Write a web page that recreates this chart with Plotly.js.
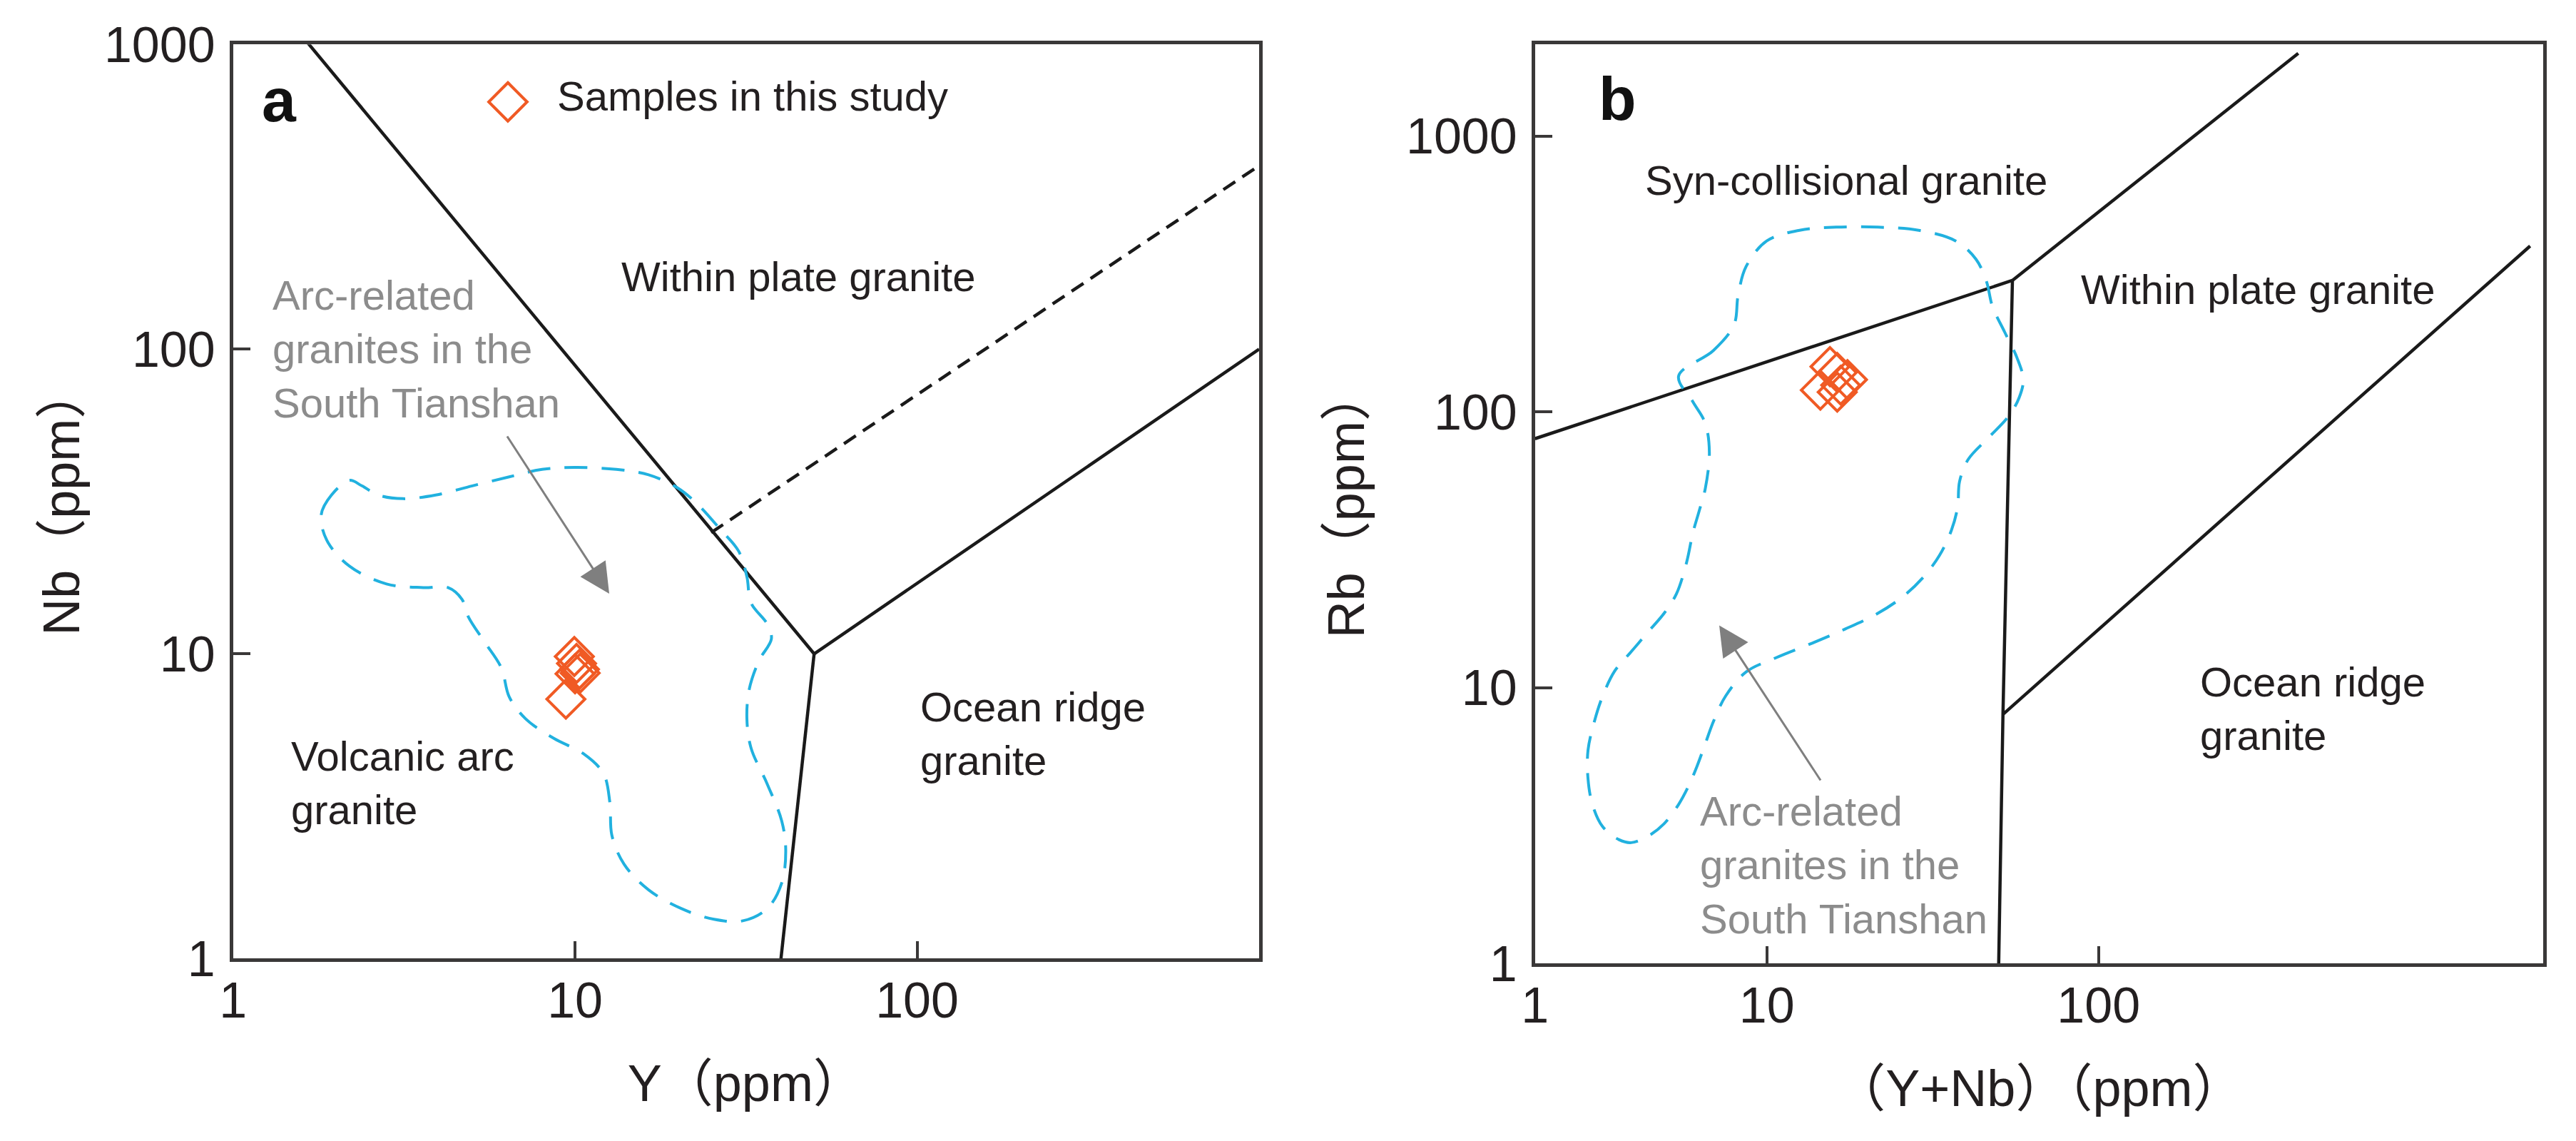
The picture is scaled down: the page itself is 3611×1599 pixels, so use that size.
<!DOCTYPE html>
<html>
<head>
<meta charset="utf-8">
<script src="https://cdn.plot.ly/plotly-3.0.1.min.js"></script>
<style>
html,body{margin:0;padding:0;background:#ffffff;}
#chart{width:3611px;height:1599px;}
</style>
</head>
<body>
<div id="chart"></div>
<script>
// ---------------- Panel a : Nb vs Y (ppm) ----------------
const aXTickVals = [1, 10, 100];
const aXTickText = ['1', '10', '100'];
const aYTickVals = [1, 10, 100, 1000];
const aYTickText = ['1', '10', '100', '1000'];

// field boundaries (Y, Nb)
const aBoundWpgY  = [1, 50];     const aBoundWpgNb  = [2000, 10];
const aBoundVagY  = [50, 40];    const aBoundVagNb  = [10, 1];
const aBoundOrgY  = [50, 1000];  const aBoundOrgNb  = [10, 100];
const aBoundDashY = [25, 1000];  const aBoundDashNb = [25, 400];

// arc-related granites of the South Tianshan (outline)
const aFieldY  = [2.19, 1.94, 1.81, 1.88, 2.19, 2.81, 3.60, 4.25, 4.67, 4.88, 5.45, 6.09, 6.42, 7.17, 8.69, 10.56, 12.1, 12.64, 12.81, 13.91, 16.41, 20.43, 25.48, 30.95, 36.5, 40.2, 41.3, 40.2, 36.5, 32.7, 31.8, 32.3, 34.5, 37.5, 36.5, 32.7, 31.8, 30.1, 26.6, 22.8, 19.9, 16.4, 13.2, 9.99, 8.01, 6.42, 5.01, 3.91, 3.14, 2.66, 2.38, 2.19];
const aFieldNb = [37.1, 33.2, 28.6, 23.6, 19.4, 16.96, 16.5, 16.5, 15.1, 13.2, 10.9, 8.98, 7.22, 6.12, 5.27, 4.71, 4.05, 3.25, 2.54, 2.04, 1.68, 1.46, 1.345, 1.33, 1.46, 1.77, 2.27, 2.83, 3.73, 4.91, 6.12, 7.64, 9.50, 11.2, 12.5, 14.7, 17.9, 21.7, 25.6, 31.0, 35.1, 38.7, 40.3, 40.9, 40.3, 38.1, 35.6, 33.2, 32.3, 33.2, 35.6, 37.1];

// samples in this study
const aSampleY  = [9.95, 10.1, 10.3, 10.35, 10.0, 9.4];
const aSampleNb = [9.8, 9.3, 8.9, 8.65, 8.6, 7.1];

// ---------------- Panel b : Rb vs (Y+Nb) (ppm) ----------------
const bXTickVals = [2, 10, 100];
const bXTickText = ['1', '10', '100'];
const bYTickVals = [1, 10, 100, 1000];
const bYTickText = ['1', '10', '100', '1000'];

const bBoundSynX = [2, 55];      const bBoundSynRb = [80, 300];
const bBoundWpX  = [55, 400];    const bBoundWpRb  = [300, 2000];
const bBoundVagX = [55, 51.5, 50]; const bBoundVagRb = [300, 8, 1];
const bBoundOrgX = [51.5, 2000]; const bBoundOrgRb = [8, 400];

const bFieldX  = [5.42, 6.90, 7.96, 8.19, 8.66, 9.99, 12.55, 16.2, 21.6, 28.7, 37.1, 42.7, 45.9, 47.9, 52.1, 56.8, 59.3, 57.6, 53.6, 46.5, 40.4, 38.1, 37.6, 36.0, 33.1, 29.5, 25.6, 21.6, 17.2, 13.7, 10.6, 8.66, 7.51, 6.90, 6.52, 6.16, 5.82, 5.42, 4.90, 4.38, 3.90, 3.58, 3.20, 2.98, 2.89, 2.89, 3.02, 3.20, 3.48, 3.90, 4.38, 4.90, 5.34, 5.73, 5.98, 6.25, 6.52, 6.71, 6.52, 5.98, 5.42];
const bFieldRb = [135, 167, 207, 264, 337, 417, 456, 468, 468, 456, 417, 358, 298, 241, 195, 157, 131, 112.5, 96.6, 80.5, 67.1, 55.9, 45.2, 37.2, 30.1, 25.0, 21.3, 18.6, 16.3, 14.5, 12.8, 11.4, 9.32, 7.53, 6.25, 5.19, 4.42, 3.77, 3.21, 2.89, 2.74, 2.81, 3.13, 3.77, 4.67, 5.93, 7.53, 9.32, 11.5, 13.5, 15.9, 18.6, 21.9, 28.5, 36.3, 43.7, 52.6, 71.3, 91.0, 109, 135];

const bSampleX  = [15.5, 16.3, 17.5, 16.7, 14.5, 16.3];
const bSampleRb = [146, 139, 131, 125, 120, 118];

// ---------------- styles ----------------
const FONT = 'Liberation Sans, Arial, Noto Sans CJK SC, sans-serif';
const TXT = '#231f20';
const LINE = '#1a1a1a';
const BOX = '#3a3838';
const BLUE = '#21b1df';
const ORANGE = '#f05a24';
const GREY = '#8c8c8c';
const LW = 4.5;

function line(x, y, xa, ya, dash) {
  return {type: 'scatter', mode: 'lines', x: x, y: y, xaxis: xa, yaxis: ya,
    line: {color: LINE, width: LW, dash: dash || 'solid'}, hoverinfo: 'skip', showlegend: false};
}
function field(x, y, xa, ya) {
  return {type: 'scatter', mode: 'lines', x: x, y: y, xaxis: xa, yaxis: ya,
    line: {color: BLUE, width: 4, dash: '32px,20px', shape: 'spline', smoothing: 1},
    hoverinfo: 'skip', showlegend: false};
}
function samples(x, y, xa, ya) {
  return {type: 'scatter', mode: 'markers', x: x, y: y, xaxis: xa, yaxis: ya,
    name: 'Samples in this study',
    marker: {symbol: 'diamond-open', size: 41, color: ORANGE, line: {color: ORANGE, width: 4}},
    showlegend: false};
}

const traces = [
  line(aBoundWpgY, aBoundWpgNb, 'x', 'y'),
  line(aBoundVagY, aBoundVagNb, 'x', 'y'),
  line(aBoundOrgY, aBoundOrgNb, 'x', 'y'),
  line(aBoundDashY, aBoundDashNb, 'x', 'y', '20px,12px'),
  field(aFieldY, aFieldNb, 'x', 'y'),
  samples(aSampleY, aSampleNb, 'x', 'y'),
  line(bBoundSynX, bBoundSynRb, 'x2', 'y2'),
  line(bBoundWpX, bBoundWpRb, 'x2', 'y2'),
  line(bBoundVagX, bBoundVagRb, 'x2', 'y2'),
  line(bBoundOrgX, bBoundOrgRb, 'x2', 'y2'),
  field(bFieldX, bFieldRb, 'x2', 'y2'),
  samples(bSampleX, bSampleRb, 'x2', 'y2')
];

function axis(extra) {
  return Object.assign({
    type: 'log',
    ticks: 'inside', ticklen: 24, tickwidth: 4, tickcolor: BOX,
    showline: true, mirror: true, linewidth: 5, linecolor: BOX,
    showgrid: false, zeroline: false,
    tickfont: {family: FONT, size: 70, color: TXT}
  }, extra);
}

function label(xref, yref, x, y, text, opts) {
  return Object.assign({xref: xref, yref: yref, x: x, y: y, text: text, showarrow: false,
    xanchor: 'left', yanchor: 'middle', align: 'left',
    font: {family: FONT, size: 58, color: TXT}}, opts || {});
}
function arrow(xref, yref, x, y, ax, ay) {
  return {xref: xref, yref: yref, axref: xref, ayref: yref, x: x, y: y, ax: ax, ay: ay,
    text: '', showarrow: true, arrowhead: 2, arrowsize: 2.8, arrowwidth: 3, arrowcolor: '#7f7f7f', standoff: 0};
}

const layout = {
  width: 3611, height: 1599,
  margin: {l: 0, r: 0, t: 0, b: 0},
  paper_bgcolor: '#ffffff', plot_bgcolor: '#ffffff',
  showlegend: false,
  font: {family: FONT, color: TXT},
  xaxis: axis({domain: [0.09047, 0.48878], range: [0, 3], anchor: 'y',
    tickvals: aXTickVals, ticktext: aXTickText, ticklabelstandoff: -6,
    title: {text: 'Y（ppm）', font: {family: FONT, size: 72, color: TXT}, standoff: 54}}),
  yaxis: axis({domain: [0.15991, 0.96104], range: [0, 3], anchor: 'x',
    tickvals: aYTickVals, ticktext: aYTickText, ticklabelstandoff: 6,
    title: {text: 'Nb（ppm）', font: {family: FONT, size: 72, color: TXT}, standoff: 12}}),
  xaxis2: axis({domain: [0.59588, 0.98726], range: [Math.log10(2), 3.3404], anchor: 'y2',
    tickvals: bXTickVals, ticktext: bXTickText, ticklabelstandoff: -6,
    title: {text: '（Y+Nb）（ppm）', font: {family: FONT, size: 72, color: TXT}, standoff: 54}}),
  yaxis2: axis({domain: [0.15572, 0.96104], range: [0, 3.333], anchor: 'x2',
    tickvals: bYTickVals, ticktext: bYTickText, ticklabelstandoff: 6,
    title: {text: 'Rb（ppm）', font: {family: FONT, size: 72, color: TXT}, standoff: 36}}),
  annotations: [
    // panel a
    label('x', 'y', 0.1356, 2.818, '<b>a</b>', {xanchor: 'center', font: {family: FONT, size: 86, color: '#111'}}),
    label('x', 'y', 0.8037, 2.8274, '◇', {xanchor: 'center', font: {family: 'DejaVu Sans', size: 78, color: ORANGE}}),
    label('x', 'y', 0.943, 2.832, 'Samples in this study'),
    label('x', 'y', 1.1312, 2.2384, 'Within plate granite'),
    label('x', 'y', 0.1112, 2.0007, 'Arc-related<br>granites in the<br>South Tianshan', {font: {family: FONT, size: 58, color: GREY}}),
    label('x', 'y', 0.1654, 0.5768, 'Volcanic arc<br>granite'),
    label('x', 'y', 2.0052, 0.7384, 'Ocean ridge<br>granite'),
    arrow('x', 'y', 1.0999, 1.1974, 0.7995, 1.7173),
    // panel b
    label('x2', 'y2', 0.5490, 3.1374, '<b>b</b>', {xanchor: 'center', font: {family: FONT, size: 86, color: '#111'}}),
    label('x2', 'y2', 0.6281, 2.8398, 'Syn-collisional granite'),
    label('x2', 'y2', 1.9417, 2.444, 'Within plate granite'),
    label('x2', 'y2', 2.3017, 0.9234, 'Ocean ridge<br>granite'),
    label('x2', 'y2', 0.7948, 0.356, 'Arc-related<br>granites in the<br>South Tianshan', {font: {family: FONT, size: 58, color: GREY}}),
    arrow('x2', 'y2', 0.8565, 1.2257, 1.1640, 0.6601)
  ]
};

Plotly.newPlot('chart', traces, layout, {staticPlot: true, displayModeBar: false});
</script>
</body>
</html>
